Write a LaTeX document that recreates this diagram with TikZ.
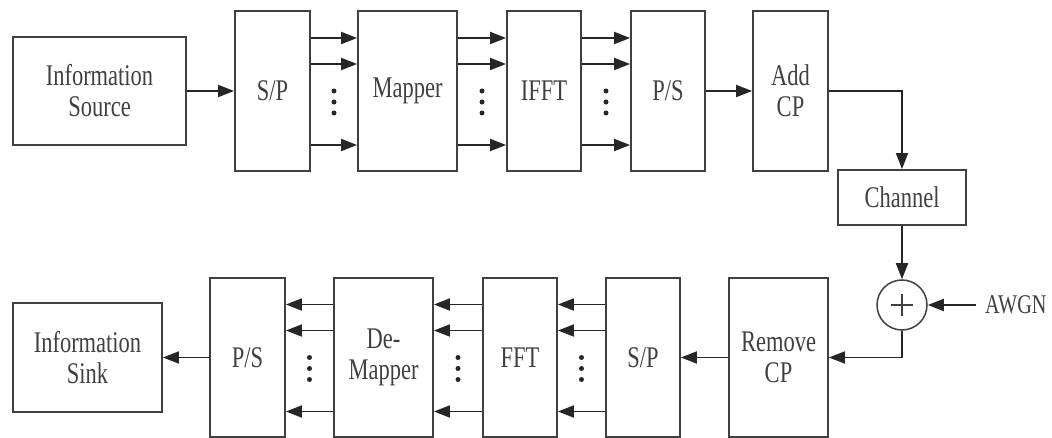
\documentclass[tikz,border=0pt]{standalone}
\usepackage{fontspec}
\setmainfont[FakeStretch=0.75]{Liberation Serif}
\usetikzlibrary{arrows.meta,calc}
\begin{document}
\begin{tikzpicture}[x=1pt,y=1pt,
  blk/.style={draw=black!75,line width=1.8pt,rectangle,inner sep=0pt,align=center,
    text=black!75,font=\fontsize{30}{31}\selectfont},
  arr/.style={draw=black!85,line width=1.8pt,-{Triangle[length=16pt,width=12pt]}},
  dotc/.style={fill=black!85,draw=none}]
\useasboundingbox (0,0) rectangle (1052,-438);
% top row
\node[blk,minimum width=173pt,minimum height=108pt] (src) at (99.5,-91) {Information\\Source};
\node[blk,minimum width=75pt,minimum height=160pt] (sp1) at (272.5,-91) {S/P};
\node[blk,minimum width=99pt,minimum height=160pt] (map) at (407.5,-91) {Mapper};
\node[blk,minimum width=74pt,minimum height=160pt] (ifft) at (544,-91) {IFFT};
\node[blk,minimum width=74pt,minimum height=160pt] (ps1) at (668,-91) {P/S};
\node[blk,minimum width=75pt,minimum height=160pt] (addcp) at (790.5,-91) {Add\\CP};
\node[blk,minimum width=128pt,minimum height=55pt] (chan) at (902,-197.5) {Channel};
\node[draw=black!75,line width=1.5pt,circle,minimum size=50pt,inner sep=0pt] (sum) at (902,-305) {};
\node[anchor=west,inner xsep=9pt,inner ysep=0pt,text=black!75,font=\fontsize{27}{28}\selectfont] (awgn) at (976,-305) {AWGN};
% bottom row
\node[blk,minimum width=99pt,minimum height=159pt] (rmcp) at (778.5,-357.5) {Remove\\CP};
\node[blk,minimum width=74pt,minimum height=159pt] (sp2) at (643,-357.5) {S/P};
\node[blk,minimum width=74pt,minimum height=159pt] (fft) at (520,-357.5) {FFT};
\node[blk,minimum width=99pt,minimum height=159pt] (demap) at (383.5,-357.5) {De-\\Mapper};
\node[blk,minimum width=75pt,minimum height=159pt] (ps2) at (247.5,-357.5) {P/S};
\node[blk,minimum width=149pt,minimum height=109pt] (sink) at (87.5,-357.5) {Information\\Sink};
% plus sign
\draw[black!75,line width=1.1pt] ([xshift=-11pt]sum.center) -- ([xshift=11pt]sum.center);
\draw[black!75,line width=1.1pt] ([yshift=-11pt]sum.center) -- ([yshift=11pt]sum.center);
% connectors top
\draw[arr] (src.east) -- (sp1.west);
\foreach \a/\b in {sp1/map,map/ifft,ifft/ps1}{
  \foreach \o in {53,27,-54}{
    \draw[arr] ([yshift=\o pt]\a.east) -- ([yshift=\o pt]\b.west);
  }
  \foreach \d in {0,-11,-22}{
    \fill[dotc] ($(\a.east)!0.5!(\b.west)+(0,\d)$) circle (2.5pt);
  }
}
\draw[arr] (ps1.east) -- (addcp.west);
\draw[arr] (addcp.east) -| (chan.north);
\draw[arr] (chan.south) -- (sum.north);
\draw[arr] (awgn.west) -- (sum.east);
\draw[arr] (sum.south) |- (rmcp.east);
% connectors bottom
\draw[arr] (rmcp.west) -- (sp2.east);
\foreach \a/\b in {sp2/fft,fft/demap,demap/ps2}{
  \foreach \o in {53,27,-54}{
    \draw[arr] ([yshift=\o pt]\a.west) -- ([yshift=\o pt]\b.east);
  }
  \foreach \d in {0,-11,-22}{
    \fill[dotc] ($(\a.west)!0.5!(\b.east)+(0,\d)$) circle (2.5pt);
  }
}
\draw[arr] (ps2.west) -- (sink.east);
\end{tikzpicture}
\end{document}
